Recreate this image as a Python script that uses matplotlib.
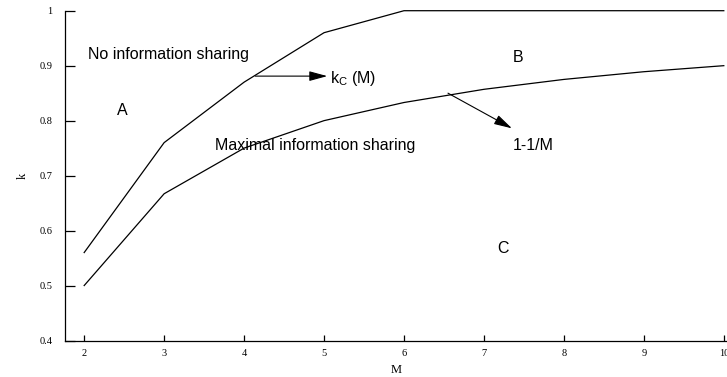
import matplotlib
matplotlib.use("Agg")
import matplotlib.pyplot as plt

M = [2, 3, 4, 5, 6, 7, 8, 9, 10]
kc = [0.56, 0.76, 0.87, 0.96, 1.0, 1.0, 1.0, 1.0, 1.0]
lower = [0.5, 0.667, 0.75, 0.8, 0.833, 0.857, 0.875, 0.889, 0.9]
xticks = [2, 3, 4, 5, 6, 7, 8, 9, 10]
yticks = [0.4, 0.5, 0.6, 0.7, 0.8, 0.9, 1.0]
ytick_labels = ["0.4", "0.5", "0.6", "0.7", "0.8", "0.9", "1"]

fig = plt.figure(figsize=(7.27, 3.77), dpi=100)
ax = fig.add_axes([0.0894, 0.0968, 0.9106, 0.8748])
ax.plot(M, kc, color="black", lw=0.9, clip_on=False)
ax.plot(M, lower, color="black", lw=0.9, clip_on=False)
ax.set_xlim(1.76, 10.04)
ax.set_ylim(0.4, 1.0)
for s in ["top", "right"]:
    ax.spines[s].set_visible(False)
ax.spines["left"].set_linewidth(0.9)
ax.spines["bottom"].set_linewidth(0.9)
ax.set_xticks(xticks)
ax.set_xticklabels([str(t) for t in xticks])
ax.set_yticks(yticks)
ax.set_yticklabels(ytick_labels)
ax.tick_params(axis="x", direction="in", length=4, width=0.9, labelsize=7.5, pad=6)
ax.tick_params(axis="y", direction="in", length=7, width=0.9, labelsize=7.5, pad=9)
for lab in ax.get_xticklabels() + ax.get_yticklabels():
    lab.set_family("Liberation Serif")
ax.set_xlabel("M", family="Liberation Serif", fontsize=9)
ax.set_ylabel("k", family="Liberation Serif", fontsize=9)
ax.xaxis.set_label_coords(0.5, -0.089)
ax.xaxis.label.set_va("center")
ax.yaxis.set_label_coords(-0.064, 0.5)
ax.yaxis.label.set_va("center")

sf = "Liberation Sans"
fs = 11.5
ax.text(2.05, 0.921, "No information sharing", family=sf, fontsize=fs, va="center")
ax.text(2.475, 0.819, "A", family=sf, fontsize=fs, va="center", ha="center")
ax.text(7.425, 0.914, "B", family=sf, fontsize=fs, va="center", ha="center")
ax.text(7.24, 0.567, "C", family=sf, fontsize=fs, va="center", ha="center")
ax.text(3.64, 0.754, "Maximal information sharing", family=sf, fontsize=fs, va="center")
ax.text(5.075, 0.869, r"k$_\mathregular{C}$ (M)", family=sf, fontsize=fs, va="baseline")
ax.text(7.36, 0.754, "1-1/M", family=sf, fontsize=fs, va="center")

style = "-|>,head_length=1.1,head_width=0.3"
ax.annotate("", xy=(5.04, 0.881), xytext=(4.14, 0.881),
            arrowprops=dict(arrowstyle=style, color="black", lw=0.8,
                            shrinkA=0, shrinkB=0))
ax.annotate("", xy=(7.35, 0.786), xytext=(6.55, 0.850),
            arrowprops=dict(arrowstyle=style, color="black", lw=0.8,
                            shrinkA=0, shrinkB=0))

fig.savefig("out.png", dpi=100)
